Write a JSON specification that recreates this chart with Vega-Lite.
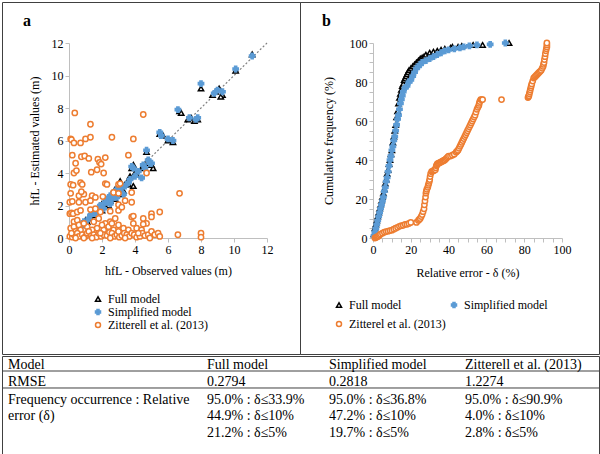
{
  "$schema": "https://vega.github.io/schema/vega-lite/v6.json",
  "padding": {"left": 1, "top": 1, "right": 1, "bottom": 1},
  "spacing": 0,
  "config": {
    "font": "Liberation Serif",
    "view": {"stroke": "#404040", "strokeWidth": 1},
    "axis": {"domainColor": "#bfbfbf", "tickColor": "#bfbfbf", "tickSize": 4, "labelFont": "Liberation Serif", "labelFontSize": 12, "labelColor": "#000", "titleFont": "Liberation Serif", "titleFontSize": 12, "titleFontWeight": "normal", "titleColor": "#000", "grid": false, "labelPadding": 2, "labelFlush": false, "labelOverlap": false},
    "legend": {"labelFont": "Liberation Serif", "labelFontSize": 12, "labelColor": "#000", "symbolStrokeWidth": 1.5, "padding": 0},
    "title": {"font": "Liberation Serif", "fontSize": 16, "fontWeight": "bold", "color": "#000"}
  },
  "datasets": {
    "pa": [
      {"s":"Full model","x":0.3,"y":0.3},{"s":"Full model","x":0.5,"y":0.6},{"s":"Full model","x":0.7,"y":0.8},{"s":"Full model","x":0.9,"y":0.9},{"s":"Full model","x":1.0,"y":1.1},{"s":"Full model","x":1.1,"y":1.0},{"s":"Full model","x":1.2,"y":1.3},{"s":"Full model","x":1.3,"y":1.2},{"s":"Full model","x":1.4,"y":1.5},{"s":"Full model","x":1.5,"y":1.4},{"s":"Full model","x":1.6,"y":1.7},{"s":"Full model","x":1.7,"y":1.6},{"s":"Full model","x":1.8,"y":1.9},{"s":"Full model","x":1.9,"y":1.8},{"s":"Full model","x":2.0,"y":2.1},{"s":"Full model","x":2.1,"y":2.0},{"s":"Full model","x":2.2,"y":2.3},{"s":"Full model","x":2.3,"y":2.1},{"s":"Full model","x":2.4,"y":2.5},{"s":"Full model","x":2.5,"y":2.3},{"s":"Full model","x":2.6,"y":2.7},{"s":"Full model","x":2.7,"y":2.5},{"s":"Full model","x":2.8,"y":3.0},{"s":"Full model","x":2.9,"y":2.7},{"s":"Full model","x":3.0,"y":3.2},{"s":"Full model","x":3.1,"y":3.5},{"s":"Full model","x":3.2,"y":3.0},{"s":"Full model","x":3.3,"y":2.9},{"s":"Full model","x":3.4,"y":3.3},{"s":"Full model","x":3.5,"y":3.4},{"s":"Full model","x":3.6,"y":3.3},{"s":"Full model","x":3.7,"y":3.8},{"s":"Full model","x":3.8,"y":4.3},{"s":"Full model","x":3.9,"y":4.5},{"s":"Full model","x":3.9,"y":3.2},{"s":"Full model","x":4.0,"y":4.0},{"s":"Full model","x":4.1,"y":3.9},{"s":"Full model","x":4.4,"y":4.3},{"s":"Full model","x":4.5,"y":4.4},{"s":"Full model","x":4.7,"y":4.7},{"s":"Full model","x":4.7,"y":5.3},{"s":"Full model","x":4.8,"y":4.6},{"s":"Full model","x":5.0,"y":4.5},{"s":"Full model","x":5.1,"y":4.3},{"s":"Full model","x":5.5,"y":6.4},{"s":"Full model","x":5.7,"y":6.3},{"s":"Full model","x":6.0,"y":6.0},{"s":"Full model","x":6.3,"y":5.9},{"s":"Full model","x":6.7,"y":7.8},{"s":"Full model","x":6.8,"y":7.7},{"s":"Full model","x":7.2,"y":7.3},{"s":"Full model","x":7.4,"y":7.4},{"s":"Full model","x":7.6,"y":7.2},{"s":"Full model","x":7.8,"y":7.3},{"s":"Full model","x":8.0,"y":9.2},{"s":"Full model","x":8.7,"y":8.8},{"s":"Full model","x":8.9,"y":9.0},{"s":"Full model","x":9.1,"y":9.2},{"s":"Full model","x":9.3,"y":8.8},{"s":"Full model","x":9.2,"y":8.7},{"s":"Full model","x":10.1,"y":10.3},{"s":"Full model","x":11.1,"y":11.3},{"s":"Full model","x":2.0,"y":1.7},{"s":"Full model","x":2.4,"y":2.0},{"s":"Full model","x":2.8,"y":2.4},{"s":"Full model","x":3.2,"y":2.7},
      {"s":"Simplified model","x":0.3,"y":0.4},{"s":"Simplified model","x":0.5,"y":0.5},{"s":"Simplified model","x":0.7,"y":0.7},{"s":"Simplified model","x":0.9,"y":1.0},{"s":"Simplified model","x":1.0,"y":0.9},{"s":"Simplified model","x":1.2,"y":1.2},{"s":"Simplified model","x":1.3,"y":1.4},{"s":"Simplified model","x":1.5,"y":1.5},{"s":"Simplified model","x":1.6,"y":1.5},{"s":"Simplified model","x":1.8,"y":1.8},{"s":"Simplified model","x":1.9,"y":2.0},{"s":"Simplified model","x":2.0,"y":1.9},{"s":"Simplified model","x":2.2,"y":2.2},{"s":"Simplified model","x":2.3,"y":2.4},{"s":"Simplified model","x":2.4,"y":2.2},{"s":"Simplified model","x":2.5,"y":2.6},{"s":"Simplified model","x":2.6,"y":2.4},{"s":"Simplified model","x":2.7,"y":2.8},{"s":"Simplified model","x":2.8,"y":2.6},{"s":"Simplified model","x":2.9,"y":3.0},{"s":"Simplified model","x":3.0,"y":2.8},{"s":"Simplified model","x":3.1,"y":3.3},{"s":"Simplified model","x":3.2,"y":3.1},{"s":"Simplified model","x":3.3,"y":2.7},{"s":"Simplified model","x":3.4,"y":3.2},{"s":"Simplified model","x":3.6,"y":3.4},{"s":"Simplified model","x":3.7,"y":3.6},{"s":"Simplified model","x":3.8,"y":4.4},{"s":"Simplified model","x":3.9,"y":4.3},{"s":"Simplified model","x":4.0,"y":3.8},{"s":"Simplified model","x":4.2,"y":4.1},{"s":"Simplified model","x":4.4,"y":3.7},{"s":"Simplified model","x":4.5,"y":4.5},{"s":"Simplified model","x":4.6,"y":4.3},{"s":"Simplified model","x":4.7,"y":5.4},{"s":"Simplified model","x":4.8,"y":4.8},{"s":"Simplified model","x":4.9,"y":4.6},{"s":"Simplified model","x":5.0,"y":4.6},{"s":"Simplified model","x":5.5,"y":6.5},{"s":"Simplified model","x":5.6,"y":6.3},{"s":"Simplified model","x":6.0,"y":6.1},{"s":"Simplified model","x":6.3,"y":6.0},{"s":"Simplified model","x":6.6,"y":7.9},{"s":"Simplified model","x":7.3,"y":7.4},{"s":"Simplified model","x":7.7,"y":7.3},{"s":"Simplified model","x":7.8,"y":7.4},{"s":"Simplified model","x":8.0,"y":9.5},{"s":"Simplified model","x":8.8,"y":8.9},{"s":"Simplified model","x":9.0,"y":9.1},{"s":"Simplified model","x":9.3,"y":9.0},{"s":"Simplified model","x":10.1,"y":10.4},{"s":"Simplified model","x":11.1,"y":11.2},{"s":"Simplified model","x":2.1,"y":1.8},{"s":"Simplified model","x":2.5,"y":2.1},{"s":"Simplified model","x":2.9,"y":2.5},
      {"s":"Zitterell et al. (2013)","x":0.35,"y":7.7},{"s":"Zitterell et al. (2013)","x":4.5,"y":7.6},{"s":"Zitterell et al. (2013)","x":1.3,"y":7.0},{"s":"Zitterell et al. (2013)","x":0.1,"y":6.1},{"s":"Zitterell et al. (2013)","x":0.15,"y":6.05},{"s":"Zitterell et al. (2013)","x":0.3,"y":5.85},{"s":"Zitterell et al. (2013)","x":0.7,"y":5.85},{"s":"Zitterell et al. (2013)","x":1.0,"y":6.1},{"s":"Zitterell et al. (2013)","x":1.3,"y":6.2},{"s":"Zitterell et al. (2013)","x":2.6,"y":6.2},{"s":"Zitterell et al. (2013)","x":3.9,"y":6.1},
      {"s":"Zitterell et al. (2013)","x":0.2,"y":5.1},{"s":"Zitterell et al. (2013)","x":0.75,"y":5.0},{"s":"Zitterell et al. (2013)","x":0.95,"y":5.05},{"s":"Zitterell et al. (2013)","x":1.2,"y":4.9},{"s":"Zitterell et al. (2013)","x":1.75,"y":4.85},{"s":"Zitterell et al. (2013)","x":1.85,"y":4.65},{"s":"Zitterell et al. (2013)","x":1.95,"y":4.55},{"s":"Zitterell et al. (2013)","x":2.2,"y":4.95},{"s":"Zitterell et al. (2013)","x":3.6,"y":5.1},
      {"s":"Zitterell et al. (2013)","x":0.4,"y":4.6},{"s":"Zitterell et al. (2013)","x":0.3,"y":4.0},{"s":"Zitterell et al. (2013)","x":0.45,"y":4.15},{"s":"Zitterell et al. (2013)","x":1.35,"y":4.05},{"s":"Zitterell et al. (2013)","x":1.7,"y":4.2},{"s":"Zitterell et al. (2013)","x":2.1,"y":4.0},{"s":"Zitterell et al. (2013)","x":4.7,"y":4.0},
      {"s":"Zitterell et al. (2013)","x":0.1,"y":3.3},{"s":"Zitterell et al. (2013)","x":0.25,"y":3.25},{"s":"Zitterell et al. (2013)","x":0.7,"y":3.4},{"s":"Zitterell et al. (2013)","x":0.8,"y":3.3},{"s":"Zitterell et al. (2013)","x":2.2,"y":3.35},{"s":"Zitterell et al. (2013)","x":2.3,"y":3.3},{"s":"Zitterell et al. (2013)","x":3.0,"y":3.3},{"s":"Zitterell et al. (2013)","x":3.1,"y":3.35},
      {"s":"Zitterell et al. (2013)","x":0.1,"y":2.75},{"s":"Zitterell et al. (2013)","x":0.6,"y":2.6},{"s":"Zitterell et al. (2013)","x":0.9,"y":2.7},{"s":"Zitterell et al. (2013)","x":1.4,"y":2.6},{"s":"Zitterell et al. (2013)","x":0.75,"y":2.85},{"s":"Zitterell et al. (2013)","x":2.7,"y":2.8},{"s":"Zitterell et al. (2013)","x":3.0,"y":2.75},{"s":"Zitterell et al. (2013)","x":3.8,"y":2.8},{"s":"Zitterell et al. (2013)","x":6.7,"y":2.75},
      {"s":"Zitterell et al. (2013)","x":0.05,"y":2.2},{"s":"Zitterell et al. (2013)","x":0.2,"y":2.25},{"s":"Zitterell et al. (2013)","x":0.6,"y":2.2},{"s":"Zitterell et al. (2013)","x":1.0,"y":2.2},{"s":"Zitterell et al. (2013)","x":1.3,"y":2.3},{"s":"Zitterell et al. (2013)","x":1.6,"y":2.5},{"s":"Zitterell et al. (2013)","x":2.05,"y":2.55},{"s":"Zitterell et al. (2013)","x":3.8,"y":2.2},{"s":"Zitterell et al. (2013)","x":3.0,"y":2.05},{"s":"Zitterell et al. (2013)","x":3.4,"y":2.3},
      {"s":"Zitterell et al. (2013)","x":0.05,"y":1.5},{"s":"Zitterell et al. (2013)","x":0.15,"y":1.55},{"s":"Zitterell et al. (2013)","x":0.25,"y":1.5},{"s":"Zitterell et al. (2013)","x":0.5,"y":1.6},{"s":"Zitterell et al. (2013)","x":0.7,"y":1.7},{"s":"Zitterell et al. (2013)","x":1.3,"y":1.75},{"s":"Zitterell et al. (2013)","x":1.6,"y":1.8},{"s":"Zitterell et al. (2013)","x":1.9,"y":1.6},{"s":"Zitterell et al. (2013)","x":2.5,"y":1.65},{"s":"Zitterell et al. (2013)","x":3.0,"y":1.7},{"s":"Zitterell et al. (2013)","x":3.2,"y":1.9},{"s":"Zitterell et al. (2013)","x":3.8,"y":1.3},{"s":"Zitterell et al. (2013)","x":3.9,"y":1.35},{"s":"Zitterell et al. (2013)","x":4.5,"y":1.2},{"s":"Zitterell et al. (2013)","x":5.0,"y":1.5},{"s":"Zitterell et al. (2013)","x":5.5,"y":1.6},{"s":"Zitterell et al. (2013)","x":5.0,"y":1.3},{"s":"Zitterell et al. (2013)","x":4.7,"y":0.9},{"s":"Zitterell et al. (2013)","x":4.5,"y":0.85},{"s":"Zitterell et al. (2013)","x":2.8,"y":1.2},{"s":"Zitterell et al. (2013)","x":2.5,"y":1.0},{"s":"Zitterell et al. (2013)","x":2.2,"y":0.9},{"s":"Zitterell et al. (2013)","x":1.5,"y":1.0},{"s":"Zitterell et al. (2013)","x":0.3,"y":1.0},{"s":"Zitterell et al. (2013)","x":0.5,"y":1.1},{"s":"Zitterell et al. (2013)","x":0.1,"y":0.6},{"s":"Zitterell et al. (2013)","x":0.3,"y":0.7},{"s":"Zitterell et al. (2013)","x":0.6,"y":0.8},{"s":"Zitterell et al. (2013)","x":1.1,"y":0.7},{"s":"Zitterell et al. (2013)","x":1.7,"y":0.6},{"s":"Zitterell et al. (2013)","x":2.4,"y":0.7},{"s":"Zitterell et al. (2013)","x":2.7,"y":0.5},{"s":"Zitterell et al. (2013)","x":3.0,"y":0.8},{"s":"Zitterell et al. (2013)","x":3.3,"y":0.6},{"s":"Zitterell et al. (2013)","x":3.6,"y":0.5},{"s":"Zitterell et al. (2013)","x":4.1,"y":0.6},{"s":"Zitterell et al. (2013)","x":4.4,"y":0.5},{"s":"Zitterell et al. (2013)","x":0.4,"y":0.4},{"s":"Zitterell et al. (2013)","x":0.7,"y":0.5},{"s":"Zitterell et al. (2013)","x":1.4,"y":0.5},{"s":"Zitterell et al. (2013)","x":2.1,"y":0.5},{"s":"Zitterell et al. (2013)","x":0.9,"y":0.9},{"s":"Zitterell et al. (2013)","x":1.8,"y":1.2},{"s":"Zitterell et al. (2013)","x":2.0,"y":0.8},{"s":"Zitterell et al. (2013)","x":3.9,"y":0.9},{"s":"Zitterell et al. (2013)","x":2.6,"y":0.9},
      {"s":"Zitterell et al. (2013)","x":0.05,"y":0.1},{"s":"Zitterell et al. (2013)","x":0.2,"y":0.05},{"s":"Zitterell et al. (2013)","x":0.3,"y":0.2},{"s":"Zitterell et al. (2013)","x":0.5,"y":0.3},{"s":"Zitterell et al. (2013)","x":0.6,"y":0.1},{"s":"Zitterell et al. (2013)","x":0.8,"y":0.2},{"s":"Zitterell et al. (2013)","x":1.0,"y":0.1},{"s":"Zitterell et al. (2013)","x":1.1,"y":0.3},{"s":"Zitterell et al. (2013)","x":1.2,"y":0.4},{"s":"Zitterell et al. (2013)","x":1.35,"y":0.15},{"s":"Zitterell et al. (2013)","x":1.5,"y":0.2},{"s":"Zitterell et al. (2013)","x":1.65,"y":0.05},{"s":"Zitterell et al. (2013)","x":1.8,"y":0.3},{"s":"Zitterell et al. (2013)","x":1.95,"y":0.1},{"s":"Zitterell et al. (2013)","x":2.1,"y":0.2},{"s":"Zitterell et al. (2013)","x":2.3,"y":0.15},{"s":"Zitterell et al. (2013)","x":2.45,"y":0.35},{"s":"Zitterell et al. (2013)","x":2.6,"y":0.3},{"s":"Zitterell et al. (2013)","x":2.75,"y":0.1},{"s":"Zitterell et al. (2013)","x":2.9,"y":0.2},{"s":"Zitterell et al. (2013)","x":3.05,"y":0.05},{"s":"Zitterell et al. (2013)","x":3.2,"y":0.15},{"s":"Zitterell et al. (2013)","x":3.35,"y":0.3},{"s":"Zitterell et al. (2013)","x":3.5,"y":0.2},{"s":"Zitterell et al. (2013)","x":3.65,"y":0.1},{"s":"Zitterell et al. (2013)","x":3.8,"y":0.3},{"s":"Zitterell et al. (2013)","x":3.95,"y":0.2},{"s":"Zitterell et al. (2013)","x":4.1,"y":0.05},{"s":"Zitterell et al. (2013)","x":4.3,"y":0.1},{"s":"Zitterell et al. (2013)","x":4.45,"y":0.3},{"s":"Zitterell et al. (2013)","x":4.6,"y":0.15},{"s":"Zitterell et al. (2013)","x":4.8,"y":0.2},{"s":"Zitterell et al. (2013)","x":5.0,"y":0.4},{"s":"Zitterell et al. (2013)","x":5.2,"y":0.2},{"s":"Zitterell et al. (2013)","x":5.4,"y":0.3},{"s":"Zitterell et al. (2013)","x":5.5,"y":0.1},{"s":"Zitterell et al. (2013)","x":6.6,"y":0.2},{"s":"Zitterell et al. (2013)","x":8.0,"y":0.3},{"s":"Zitterell et al. (2013)","x":8.0,"y":0.05},{"s":"Zitterell et al. (2013)","x":0.15,"y":0.3},{"s":"Zitterell et al. (2013)","x":0.4,"y":0.0},{"s":"Zitterell et al. (2013)","x":0.9,"y":0.0},{"s":"Zitterell et al. (2013)","x":1.4,"y":0.0},{"s":"Zitterell et al. (2013)","x":1.9,"y":0.3},{"s":"Zitterell et al. (2013)","x":2.5,"y":0.0},{"s":"Zitterell et al. (2013)","x":3.0,"y":0.4},{"s":"Zitterell et al. (2013)","x":3.4,"y":0.0},{"s":"Zitterell et al. (2013)","x":4.2,"y":0.3},{"s":"Zitterell et al. (2013)","x":4.9,"y":0.0}
    ],
    "pb": [
      {"s":"Full model","x":0.5,"y":2},{"s":"Full model","x":1,"y":5},{"s":"Full model","x":1.5,"y":7},{"s":"Full model","x":2,"y":9},{"s":"Full model","x":2.5,"y":11},{"s":"Full model","x":3,"y":13},{"s":"Full model","x":3.5,"y":15},{"s":"Full model","x":4,"y":17},{"s":"Full model","x":4.5,"y":19},{"s":"Full model","x":5,"y":21},{"s":"Full model","x":5.5,"y":23},{"s":"Full model","x":6,"y":25},{"s":"Full model","x":6.5,"y":28},{"s":"Full model","x":7,"y":30},{"s":"Full model","x":7.5,"y":33},{"s":"Full model","x":8,"y":35},{"s":"Full model","x":8.5,"y":38},{"s":"Full model","x":9,"y":40},{"s":"Full model","x":9.5,"y":43},{"s":"Full model","x":10,"y":45},{"s":"Full model","x":10.5,"y":49},{"s":"Full model","x":11,"y":52},{"s":"Full model","x":11.5,"y":55},{"s":"Full model","x":12,"y":58},{"s":"Full model","x":12.5,"y":62},{"s":"Full model","x":13,"y":65},{"s":"Full model","x":13.5,"y":69},{"s":"Full model","x":14,"y":72},{"s":"Full model","x":14.5,"y":74},{"s":"Full model","x":15,"y":76},{"s":"Full model","x":15.5,"y":78},{"s":"Full model","x":16,"y":79},{"s":"Full model","x":16.5,"y":81},{"s":"Full model","x":17,"y":82},{"s":"Full model","x":17.5,"y":83},{"s":"Full model","x":18,"y":84},{"s":"Full model","x":18.5,"y":85},{"s":"Full model","x":19,"y":86},{"s":"Full model","x":20,"y":87},{"s":"Full model","x":21,"y":88},{"s":"Full model","x":22,"y":89},{"s":"Full model","x":23,"y":90},{"s":"Full model","x":24,"y":91},{"s":"Full model","x":25,"y":92},{"s":"Full model","x":26,"y":92.5},{"s":"Full model","x":27,"y":93},{"s":"Full model","x":28,"y":94},{"s":"Full model","x":30,"y":95},{"s":"Full model","x":32,"y":95.5},{"s":"Full model","x":34,"y":96},{"s":"Full model","x":36,"y":96.5},{"s":"Full model","x":38,"y":97},{"s":"Full model","x":41,"y":97.5},{"s":"Full model","x":42,"y":98},{"s":"Full model","x":45,"y":98},{"s":"Full model","x":47,"y":98.5},{"s":"Full model","x":53,"y":99},{"s":"Full model","x":58,"y":99},{"s":"Full model","x":72,"y":100},
      {"s":"Simplified model","x":0.5,"y":1},{"s":"Simplified model","x":1,"y":3},{"s":"Simplified model","x":1.5,"y":5},{"s":"Simplified model","x":2,"y":7},{"s":"Simplified model","x":2.5,"y":9},{"s":"Simplified model","x":3,"y":11},{"s":"Simplified model","x":3.5,"y":13},{"s":"Simplified model","x":4,"y":15},{"s":"Simplified model","x":4.5,"y":17},{"s":"Simplified model","x":5,"y":19},{"s":"Simplified model","x":5.5,"y":21},{"s":"Simplified model","x":6,"y":24},{"s":"Simplified model","x":6.5,"y":26},{"s":"Simplified model","x":7,"y":29},{"s":"Simplified model","x":7.5,"y":31},{"s":"Simplified model","x":8,"y":34},{"s":"Simplified model","x":8.5,"y":37},{"s":"Simplified model","x":9,"y":40},{"s":"Simplified model","x":9.5,"y":42},{"s":"Simplified model","x":10,"y":45},{"s":"Simplified model","x":10.5,"y":47},{"s":"Simplified model","x":11,"y":50},{"s":"Simplified model","x":11.5,"y":52},{"s":"Simplified model","x":12,"y":55},{"s":"Simplified model","x":12.5,"y":58},{"s":"Simplified model","x":13,"y":61},{"s":"Simplified model","x":13.5,"y":63},{"s":"Simplified model","x":14,"y":66},{"s":"Simplified model","x":14.5,"y":69},{"s":"Simplified model","x":15,"y":71},{"s":"Simplified model","x":15.5,"y":73},{"s":"Simplified model","x":16,"y":75},{"s":"Simplified model","x":17,"y":77},{"s":"Simplified model","x":18,"y":78},{"s":"Simplified model","x":19,"y":80},{"s":"Simplified model","x":20,"y":81},{"s":"Simplified model","x":21,"y":83},{"s":"Simplified model","x":22,"y":85},{"s":"Simplified model","x":23,"y":87},{"s":"Simplified model","x":24,"y":88},{"s":"Simplified model","x":25,"y":89},{"s":"Simplified model","x":26,"y":90},{"s":"Simplified model","x":28,"y":91},{"s":"Simplified model","x":30,"y":92},{"s":"Simplified model","x":32,"y":93},{"s":"Simplified model","x":34,"y":94},{"s":"Simplified model","x":36,"y":95},{"s":"Simplified model","x":38,"y":96},{"s":"Simplified model","x":40,"y":96.5},{"s":"Simplified model","x":43,"y":97},{"s":"Simplified model","x":46,"y":97.5},{"s":"Simplified model","x":48,"y":98},{"s":"Simplified model","x":51,"y":98.5},{"s":"Simplified model","x":55,"y":99},{"s":"Simplified model","x":62,"y":99.3},{"s":"Simplified model","x":70,"y":100},
      {"s":"Zitterel et al. (2013)","x":1,"y":0},{"s":"Zitterel et al. (2013)","x":1.5,"y":0.2},{"s":"Zitterel et al. (2013)","x":2,"y":0.5},{"s":"Zitterel et al. (2013)","x":2.5,"y":0.8},{"s":"Zitterel et al. (2013)","x":3,"y":1},{"s":"Zitterel et al. (2013)","x":3.5,"y":1.5},{"s":"Zitterel et al. (2013)","x":4,"y":2},{"s":"Zitterel et al. (2013)","x":5,"y":2.5},{"s":"Zitterel et al. (2013)","x":6,"y":3},{"s":"Zitterel et al. (2013)","x":7,"y":3.3},{"s":"Zitterel et al. (2013)","x":8,"y":3.5},{"s":"Zitterel et al. (2013)","x":9,"y":3.8},{"s":"Zitterel et al. (2013)","x":10,"y":4},{"s":"Zitterel et al. (2013)","x":11,"y":4.5},{"s":"Zitterel et al. (2013)","x":12,"y":5},{"s":"Zitterel et al. (2013)","x":13,"y":5.5},{"s":"Zitterel et al. (2013)","x":14,"y":6},{"s":"Zitterel et al. (2013)","x":15,"y":6.3},{"s":"Zitterel et al. (2013)","x":16,"y":6.5},{"s":"Zitterel et al. (2013)","x":17,"y":7},{"s":"Zitterel et al. (2013)","x":18,"y":7},{"s":"Zitterel et al. (2013)","x":19,"y":7.5},{"s":"Zitterel et al. (2013)","x":20,"y":8},{"s":"Zitterel et al. (2013)","x":23,"y":8},{"s":"Zitterel et al. (2013)","x":24,"y":9},{"s":"Zitterel et al. (2013)","x":24.5,"y":9.5},{"s":"Zitterel et al. (2013)","x":25,"y":10},{"s":"Zitterel et al. (2013)","x":25.5,"y":11},{"s":"Zitterel et al. (2013)","x":26,"y":12},{"s":"Zitterel et al. (2013)","x":26.5,"y":13.5},{"s":"Zitterel et al. (2013)","x":27,"y":15},{"s":"Zitterel et al. (2013)","x":27.2,"y":17},{"s":"Zitterel et al. (2013)","x":27.5,"y":19},{"s":"Zitterel et al. (2013)","x":27.8,"y":21},{"s":"Zitterel et al. (2013)","x":28,"y":23},{"s":"Zitterel et al. (2013)","x":28.2,"y":24},{"s":"Zitterel et al. (2013)","x":28.5,"y":25},{"s":"Zitterel et al. (2013)","x":29,"y":26},{"s":"Zitterel et al. (2013)","x":29.2,"y":27},{"s":"Zitterel et al. (2013)","x":29.5,"y":28},{"s":"Zitterel et al. (2013)","x":29.8,"y":29},{"s":"Zitterel et al. (2013)","x":30,"y":30},{"s":"Zitterel et al. (2013)","x":30.2,"y":31.5},{"s":"Zitterel et al. (2013)","x":30.5,"y":33},{"s":"Zitterel et al. (2013)","x":31,"y":34},{"s":"Zitterel et al. (2013)","x":31.5,"y":34.2},{"s":"Zitterel et al. (2013)","x":32,"y":34.5},{"s":"Zitterel et al. (2013)","x":32.5,"y":34.8},{"s":"Zitterel et al. (2013)","x":33,"y":35},{"s":"Zitterel et al. (2013)","x":33.2,"y":36},{"s":"Zitterel et al. (2013)","x":33.5,"y":37},{"s":"Zitterel et al. (2013)","x":33.8,"y":37.5},{"s":"Zitterel et al. (2013)","x":34,"y":38},{"s":"Zitterel et al. (2013)","x":34.5,"y":38.2},{"s":"Zitterel et al. (2013)","x":35,"y":38.5},{"s":"Zitterel et al. (2013)","x":35.5,"y":38.7},{"s":"Zitterel et al. (2013)","x":36,"y":39},{"s":"Zitterel et al. (2013)","x":36.5,"y":39.2},{"s":"Zitterel et al. (2013)","x":37,"y":39.5},{"s":"Zitterel et al. (2013)","x":37.5,"y":39.8},{"s":"Zitterel et al. (2013)","x":38,"y":40},{"s":"Zitterel et al. (2013)","x":38.5,"y":40.5},{"s":"Zitterel et al. (2013)","x":39,"y":41},{"s":"Zitterel et al. (2013)","x":39.5,"y":41.5},{"s":"Zitterel et al. (2013)","x":40,"y":42},{"s":"Zitterel et al. (2013)","x":41,"y":42},{"s":"Zitterel et al. (2013)","x":42,"y":42.5},{"s":"Zitterel et al. (2013)","x":43,"y":43},{"s":"Zitterel et al. (2013)","x":44,"y":44},{"s":"Zitterel et al. (2013)","x":44.5,"y":44.5},{"s":"Zitterel et al. (2013)","x":45,"y":45},{"s":"Zitterel et al. (2013)","x":45.5,"y":46},{"s":"Zitterel et al. (2013)","x":46,"y":47},{"s":"Zitterel et al. (2013)","x":46.5,"y":48},{"s":"Zitterel et al. (2013)","x":47,"y":49},{"s":"Zitterel et al. (2013)","x":47.5,"y":50},{"s":"Zitterel et al. (2013)","x":48,"y":51},{"s":"Zitterel et al. (2013)","x":48.5,"y":52},{"s":"Zitterel et al. (2013)","x":49,"y":53},{"s":"Zitterel et al. (2013)","x":49.5,"y":54},{"s":"Zitterel et al. (2013)","x":50,"y":55},{"s":"Zitterel et al. (2013)","x":50.5,"y":56},{"s":"Zitterel et al. (2013)","x":51,"y":57},{"s":"Zitterel et al. (2013)","x":51.5,"y":58},{"s":"Zitterel et al. (2013)","x":52,"y":59},{"s":"Zitterel et al. (2013)","x":52.5,"y":60},{"s":"Zitterel et al. (2013)","x":53,"y":61},{"s":"Zitterel et al. (2013)","x":53.5,"y":62},{"s":"Zitterel et al. (2013)","x":54,"y":63},{"s":"Zitterel et al. (2013)","x":54.5,"y":64.5},{"s":"Zitterel et al. (2013)","x":55,"y":66},{"s":"Zitterel et al. (2013)","x":55.5,"y":67},{"s":"Zitterel et al. (2013)","x":56,"y":68},{"s":"Zitterel et al. (2013)","x":56.2,"y":69},{"s":"Zitterel et al. (2013)","x":56.5,"y":70},{"s":"Zitterel et al. (2013)","x":57,"y":71},{"s":"Zitterel et al. (2013)","x":57.5,"y":71},{"s":"Zitterel et al. (2013)","x":58,"y":71},{"s":"Zitterel et al. (2013)","x":68,"y":71},{"s":"Zitterel et al. (2013)","x":82,"y":72},{"s":"Zitterel et al. (2013)","x":82.2,"y":72.5},{"s":"Zitterel et al. (2013)","x":82.5,"y":73},{"s":"Zitterel et al. (2013)","x":82.7,"y":74},{"s":"Zitterel et al. (2013)","x":83,"y":75},{"s":"Zitterel et al. (2013)","x":83.2,"y":76},{"s":"Zitterel et al. (2013)","x":83.5,"y":77},{"s":"Zitterel et al. (2013)","x":83.7,"y":78},{"s":"Zitterel et al. (2013)","x":84,"y":79},{"s":"Zitterel et al. (2013)","x":84.5,"y":80.5},{"s":"Zitterel et al. (2013)","x":85,"y":82},{"s":"Zitterel et al. (2013)","x":85.5,"y":82.5},{"s":"Zitterel et al. (2013)","x":86,"y":83},{"s":"Zitterel et al. (2013)","x":86.5,"y":83.5},{"s":"Zitterel et al. (2013)","x":87,"y":84},{"s":"Zitterel et al. (2013)","x":87.5,"y":84.5},{"s":"Zitterel et al. (2013)","x":88,"y":85},{"s":"Zitterel et al. (2013)","x":88.5,"y":85.5},{"s":"Zitterel et al. (2013)","x":89,"y":86},{"s":"Zitterel et al. (2013)","x":89.5,"y":87},{"s":"Zitterel et al. (2013)","x":90,"y":88},{"s":"Zitterel et al. (2013)","x":90.2,"y":89},{"s":"Zitterel et al. (2013)","x":90.5,"y":90},{"s":"Zitterel et al. (2013)","x":90.7,"y":91.5},{"s":"Zitterel et al. (2013)","x":91,"y":93},{"s":"Zitterel et al. (2013)","x":91.2,"y":94.5},{"s":"Zitterel et al. (2013)","x":91.5,"y":96},{"s":"Zitterel et al. (2013)","x":91.7,"y":97},{"s":"Zitterel et al. (2013)","x":92,"y":98},{"s":"Zitterel et al. (2013)","x":92,"y":99},{"s":"Zitterel et al. (2013)","x":92,"y":100}
    ],
    "diag": [{"x": 0, "y": 0}, {"x": 12, "y": 12}],
    "tbl": [
      {"col":0,"row":0,"t":"Model"},{"col":1,"row":0,"t":"Full model"},{"col":2,"row":0,"t":"Simplified model"},{"col":3,"row":0,"t":"Zitterell et al. (2013)"},
      {"col":0,"row":1,"t":"RMSE"},{"col":1,"row":1,"t":"0.2794"},{"col":2,"row":1,"t":"0.2818"},{"col":3,"row":1,"t":"1.2274"},
      {"col":0,"row":2,"t":"Frequency occurrence : Relative"},{"col":1,"row":2,"t":"95.0% : δ≤33.9%"},{"col":2,"row":2,"t":"95.0% : δ≤36.8%"},{"col":3,"row":2,"t":"95.0% : δ≤90.9%"},
      {"col":0,"row":3,"t":"error (δ)"},{"col":1,"row":3,"t":"44.9% : δ≤10%"},{"col":2,"row":3,"t":"47.2% : δ≤10%"},{"col":3,"row":3,"t":"4.0%   : δ≤10%"},
      {"col":1,"row":4,"t":"21.2% : δ≤5%"},{"col":2,"row":4,"t":"19.7% : δ≤5%"},{"col":3,"row":4,"t":"2.8%   : δ≤5%"}
    ],
    "tlines": [{"row": 0.353}, {"row": 1.333}]
  },
  "vconcat": [
    {
      "hconcat": [
        {
          "width": 298,
          "height": 352,
          "title": {"text": "a", "anchor": "start", "frame": "group", "dx": 21, "dy": 40, "offset": 0, "baseline": "alphabetic"},
          "layer": [
            {
              "data": {"name": "diag"},
              "mark": {"type": "line", "color": "#808080", "strokeDash": [2, 2], "strokeWidth": 1.2},
              "encoding": {
                "x": {"field": "x", "type": "quantitative"},
                "y": {"field": "y", "type": "quantitative"}
              }
            },
            {
              "data": {"name": "pa"},
              "mark": {"type": "point", "strokeWidth": 1.5, "opacity": 1},
              "encoding": {
                "x": {"field": "x", "type": "quantitative",
                  "scale": {"domain": [0, 12], "range": [67, 265], "nice": false, "zero": false},
                  "axis": {"values": [0,0.5,1,1.5,2,2.5,3,3.5,4,4.5,5,5.5,6,6.5,7,7.5,8,8.5,9,9.5,10,10.5,11,11.5,12],
                    "labelExpr": "datum.value % 2 === 0 ? datum.label : ''", "labelFont": "Liberation Serif", "titleFont": "Liberation Serif",
                    "offset": -116, "title": "hfL - Observed values  (m)", "titlePadding": 10}},
                "y": {"field": "y", "type": "quantitative",
                  "scale": {"domain": [0, 12], "range": [236, 41], "nice": false, "zero": false},
                  "axis": {"values": [0,0.5,1,1.5,2,2.5,3,3.5,4,4.5,5,5.5,6,6.5,7,7.5,8,8.5,9,9.5,10,10.5,11,11.5,12],
                    "labelExpr": "datum.value % 2 === 0 ? datum.label : ''", "labelFont": "Liberation Serif", "titleFont": "Liberation Serif",
                    "offset": -67, "title": "hfL - Estimated  values  (m)", "titlePadding": 10}},
                "shape": {"field": "s", "type": "nominal",
                  "scale": {"domain": ["Full model", "Simplified model", "Zitterell et al. (2013)"], "range": ["triangle-up", "cross", "circle"]},
                  "legend": {"orient": "none", "legendX": 90, "legendY": 291, "title": null, "rowPadding": 1, "symbolSize": 25, "labelFont": "Liberation Serif", "labelFontSize": 12}},
                "stroke": {"field": "s", "type": "nominal",
                  "scale": {"domain": ["Full model", "Simplified model", "Zitterell et al. (2013)"], "range": ["#000000", "#5B9BD5", "#ED7D31"]}},
                "fill": {"field": "s", "type": "nominal",
                  "scale": {"domain": ["Full model", "Simplified model", "Zitterell et al. (2013)"], "range": ["#ffffff", "#5B9BD5", "#ffffff"]}},
                "size": {"value": 28}
              }
            }
          ]
        },
        {
          "width": 299,
          "height": 352,
          "title": {"text": "b", "anchor": "start", "frame": "group", "dx": 22, "dy": 40, "offset": 0, "baseline": "alphabetic"},
          "data": {"name": "pb"},
          "mark": {"type": "point", "strokeWidth": 1.5, "opacity": 1},
          "encoding": {
            "x": {"field": "x", "type": "quantitative",
              "scale": {"domain": [0, 100], "range": [73, 262], "nice": false, "zero": false},
              "axis": {"values": [0,5,10,15,20,25,30,35,40,45,50,55,60,65,70,75,80,85,90,95,100],
                "labelExpr": "datum.value % 20 === 0 ? datum.label : ''", "labelFont": "Liberation Serif", "titleFont": "Liberation Serif",
                "offset": -116, "title": "Relative error - δ (%)", "titlePadding": 12}},
            "y": {"field": "y", "type": "quantitative",
              "scale": {"domain": [0, 100], "range": [236, 41], "nice": false, "zero": false},
              "axis": {"values": [0,5,10,15,20,25,30,35,40,45,50,55,60,65,70,75,80,85,90,95,100],
                "labelExpr": "datum.value % 20 === 0 ? datum.label : ''", "labelFont": "Liberation Serif", "titleFont": "Liberation Serif",
                "offset": -73, "title": "Cumulative  frequency (%)", "titlePadding": 14}},
            "shape": {"field": "s", "type": "nominal",
              "scale": {"domain": ["Full model", "Simplified model", "Zitterel et al. (2013)"], "range": ["triangle-up", "cross", "circle"]},
              "legend": {"orient": "none", "legendX": 33, "legendY": 297, "title": null, "columns": 2, "direction": "horizontal", "columnPadding": 2, "rowPadding": 7, "symbolSize": 25, "labelFont": "Liberation Serif", "labelFontSize": 12}},
            "stroke": {"field": "s", "type": "nominal",
              "scale": {"domain": ["Full model", "Simplified model", "Zitterel et al. (2013)"], "range": ["#000000", "#5B9BD5", "#ED7D31"]}},
            "fill": {"field": "s", "type": "nominal",
              "scale": {"domain": ["Full model", "Simplified model", "Zitterel et al. (2013)"], "range": ["#ffffff", "#5B9BD5", "#ffffff"]}},
            "size": {"value": 28}
          }
        }
      ],
      "spacing": 0,
      "bounds": "flush",
      "resolve": {"scale": {"shape": "independent", "stroke": "independent", "fill": "independent"}, "legend": {"shape": "independent", "stroke": "independent", "fill": "independent"}}
    },
    {
      "width": 597,
      "height": 100,
      "layer": [
        {
          "data": {"name": "tlines"},
          "mark": {"type": "rule", "color": "#404040", "strokeWidth": 1},
          "encoding": {"y": {"field": "row", "type": "quantitative", "axis": null}}
        },
        {
          "data": {"name": "tbl"},
          "mark": {"type": "text", "align": "left", "baseline": "middle", "font": "Liberation Serif", "fontSize": 14, "color": "#000"},
          "encoding": {
            "x": {"field": "col", "type": "quantitative", "scale": {"domain": [0, 1, 2, 3], "range": [6, 205, 327, 463], "nice": false, "zero": false}, "axis": null},
            "y": {"field": "row", "type": "quantitative", "scale": {"domain": [0, 1, 2, 3, 4], "range": [9, 26, 44, 60, 77], "nice": false, "zero": false}, "axis": null},
            "text": {"field": "t", "type": "nominal"}
          }
        }
      ]
    }
  ]
}
